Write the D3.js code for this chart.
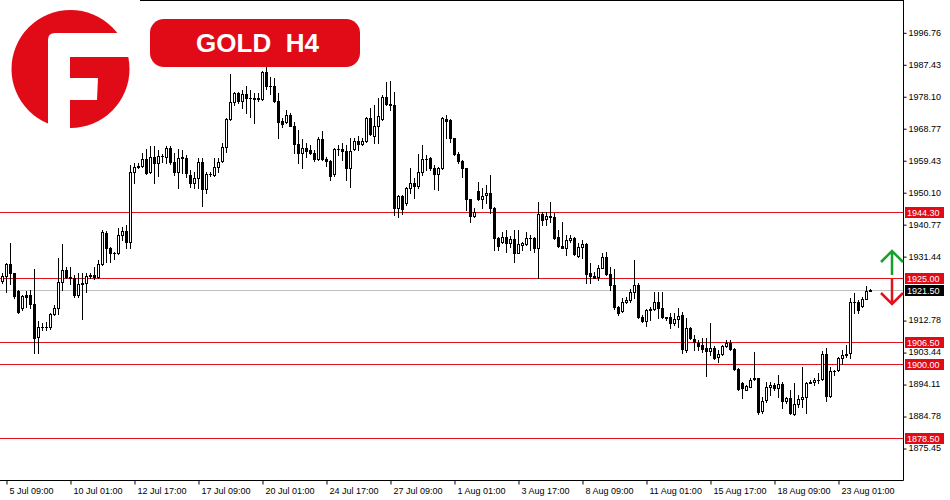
<!DOCTYPE html>
<html>
<head>
<meta charset="utf-8">
<script src="https://cdn.jsdelivr.net/npm/d3@7"></script>
<style>
  html, body { margin: 0; padding: 0; background: #fff; }
  svg { display: block; font-family: "Liberation Sans", Arial, sans-serif; }
</style>
</head>
<body>
<div id="chart"></div>
<script>
// GOLD H4 candles, 5 Jul 05:00 .. 24 Aug 05:00 -- [open, high, low, close]
const ohlc = [
  [1924.3,1926.6,1923.5,1925.7],[1925.7,1929.4,1921.1,1929.1],[1929.1,1935.4,1923.2,1926.4],[1926.4,1926.6,1919.3,1919.8],
  [1921.4,1921.6,1914.8,1915.2],[1916.4,1920.1,1915.7,1919.8],[1920.1,1921.4,1916.7,1919.6],[1920.1,1921.6,1916.4,1917.4],
  [1917.5,1927.7,1903.1,1907.6],[1907.8,1912.5,1903.1,1910.8],[1910.8,1911.8,1909.9,1910.9],[1910.9,1912.3,1909.9,1910.7],
  [1910.8,1914.9,1910.1,1914.5],[1914.5,1917.2,1914.3,1916.2],[1916.4,1930.8,1914.5,1923.8],[1923.8,1935.0,1921.6,1927.4],
  [1927.4,1928.4,1925.0,1925.4],[1925.4,1928.4,1923.2,1925.1],[1925.0,1925.9,1919.5,1920.1],[1920.1,1926.4,1919.6,1923.3],
  [1923.3,1926.4,1913.0,1923.5],[1923.5,1926.6,1921.1,1925.7],[1925.7,1926.6,1925.2,1925.9],[1925.9,1928.4,1924.7,1925.4],
  [1925.4,1930.3,1925.2,1929.1],[1929.1,1939.1,1928.9,1938.4],[1938.2,1938.9,1929.8,1933.7],[1933.7,1934.2,1929.8,1932.4],
  [1932.4,1932.7,1930.5,1932.3],[1932.3,1939.6,1932.1,1937.5],[1937.5,1940.0,1936.1,1938.8],[1938.8,1940.5,1933.9,1935.7],
  [1935.7,1958.0,1933.9,1956.1],[1956.1,1958.7,1952.9,1957.4],[1957.4,1958.7,1957.1,1957.7],[1957.7,1961.4,1957.5,1959.8],
  [1959.8,1962.6,1955.4,1955.6],[1955.9,1963.6,1955.6,1960.3],[1960.3,1963.6,1952.7,1958.7],[1958.7,1962.4,1954.9,1960.7],
  [1960.7,1961.2,1959.0,1960.6],[1960.5,1963.6,1958.7,1962.9],[1962.9,1963.6,1958.3,1959.0],[1959.0,1961.4,1955.1,1956.1],
  [1955.9,1962.6,1951.2,1960.0],[1960.0,1962.4,1955.6,1960.3],[1960.0,1960.9,1954.6,1955.8],[1955.1,1956.6,1951.7,1952.7],
  [1952.7,1956.1,1951.2,1954.2],[1954.3,1960.0,1951.2,1959.0],[1959.0,1960.0,1946.2,1950.9],[1950.9,1956.1,1949.8,1955.3],
  [1955.3,1956.1,1954.8,1955.4],[1955.2,1960.0,1954.8,1957.4],[1957.4,1960.0,1956.1,1959.0],[1959.3,1964.4,1959.0,1963.2],
  [1963.2,1971.7,1961.9,1971.4],[1971.4,1984.6,1971.2,1976.3],[1976.3,1979.2,1975.5,1979.0],[1979.0,1979.4,1976.0,1976.8],
  [1976.8,1979.9,1974.6,1978.7],[1978.7,1981.1,1973.3,1977.5],[1977.5,1979.9,1972.0,1977.6],[1977.6,1979.0,1970.2,1977.4],
  [1977.5,1979.0,1976.8,1977.2],[1977.2,1985.5,1977.0,1985.1],[1985.1,1986.7,1980.1,1981.2],[1981.2,1983.8,1978.9,1981.1],
  [1981.1,1983.3,1976.5,1976.8],[1976.7,1979.0,1965.8,1970.7],[1970.9,1971.7,1969.0,1969.9],[1970.7,1974.1,1970.4,1972.6],
  [1972.6,1973.1,1969.4,1969.5],[1969.4,1970.7,1961.4,1964.1],[1964.1,1968.2,1958.7,1961.6],[1961.6,1965.6,1957.1,1962.9],
  [1962.9,1964.4,1960.4,1962.2],[1962.4,1963.9,1961.2,1961.6],[1961.4,1962.4,1959.3,1959.7],[1959.9,1966.3,1959.5,1965.5],
  [1965.5,1968.0,1959.5,1959.7],[1959.7,1960.5,1957.7,1959.3],[1959.2,1959.5,1953.7,1954.9],[1955.3,1963.1,1954.9,1962.7],
  [1962.7,1963.9,1960.9,1962.6],[1962.6,1964.4,1959.5,1962.2],[1962.2,1963.9,1953.7,1957.1],[1957.1,1965.8,1951.7,1962.2],
  [1962.6,1965.8,1962.4,1965.0],[1965.0,1966.5,1962.4,1964.2],[1964.2,1965.8,1963.9,1965.0],[1965.0,1972.1,1964.8,1971.7],
  [1971.7,1974.6,1966.8,1967.1],[1966.5,1975.5,1964.5,1969.4],[1969.4,1977.5,1964.4,1972.3],[1971.4,1978.5,1971.2,1978.0],
  [1978.0,1982.3,1975.5,1975.8],[1975.8,1982.6,1974.1,1975.5],[1975.5,1979.4,1943.4,1945.6],[1945.6,1949.3,1942.9,1949.0],
  [1949.0,1949.3,1943.7,1945.2],[1947.0,1951.7,1946.4,1951.2],[1951.2,1957.1,1949.8,1952.7],[1952.7,1954.2,1948.3,1951.9],
  [1951.9,1961.2,1951.2,1955.9],[1955.9,1963.9,1955.1,1959.8],[1959.8,1960.9,1956.6,1959.7],[1960.2,1960.5,1956.6,1957.1],
  [1957.1,1958.0,1950.9,1955.4],[1955.4,1957.5,1950.7,1957.1],[1957.1,1972.1,1956.8,1971.7],[1971.4,1972.6,1965.8,1971.0],
  [1971.2,1971.4,1964.7,1965.8],[1965.8,1965.9,1960.9,1961.2],[1961.2,1961.9,1958.5,1959.3],[1959.3,1959.5,1954.6,1957.1],
  [1957.1,1957.2,1944.9,1948.0],[1948.0,1948.1,1941.5,1943.2],[1943.2,1945.6,1942.9,1944.4],[1950.4,1953.2,1947.8,1948.0],
  [1948.0,1951.2,1945.4,1949.0],[1949.2,1952.2,1946.9,1949.8],[1949.8,1955.1,1944.1,1945.4],[1945.4,1945.9,1933.2,1936.8],
  [1936.8,1937.1,1933.2,1934.4],[1935.7,1938.6,1935.2,1937.1],[1937.1,1939.1,1932.7,1935.4],[1935.4,1937.3,1934.2,1936.4],
  [1936.4,1939.1,1929.8,1932.4],[1932.4,1939.1,1932.3,1934.9],[1934.7,1935.7,1933.2,1935.2],[1934.9,1938.6,1934.7,1936.8],
  [1936.7,1937.6,1933.2,1936.8],[1936.6,1937.1,1932.7,1933.7],[1933.7,1947.3,1925.0,1943.7],[1943.7,1944.4,1940.5,1942.0],
  [1942.2,1944.4,1940.5,1943.2],[1943.2,1947.3,1941.5,1942.8],[1942.8,1943.9,1936.4,1936.8],[1937.1,1939.1,1934.2,1934.5],
  [1934.5,1941.5,1933.7,1933.9],[1933.9,1937.6,1931.8,1936.1],[1936.1,1937.6,1935.7,1936.6],[1936.6,1937.1,1931.8,1932.0],
  [1931.5,1935.2,1931.3,1934.2],[1934.0,1936.1,1930.8,1935.0],[1935.0,1935.4,1923.5,1926.2],[1926.4,1929.4,1923.5,1925.7],
  [1925.7,1926.9,1925.0,1925.1],[1925.3,1928.9,1924.5,1927.9],[1927.9,1932.3,1927.9,1931.3],[1931.3,1932.7,1925.9,1926.2],
  [1926.2,1928.4,1921.6,1923.0],[1923.0,1927.6,1915.9,1916.5],[1916.5,1916.9,1914.3,1914.8],[1915.4,1919.1,1915.2,1918.0],
  [1918.0,1919.4,1917.7,1918.6],[1918.6,1921.8,1918.1,1921.1],[1921.1,1930.3,1919.1,1923.0],[1923.0,1923.6,1913.3,1913.8],
  [1913.8,1914.3,1912.3,1912.5],[1912.5,1915.9,1911.1,1915.7],[1915.7,1916.7,1912.8,1916.0],[1915.9,1921.1,1915.7,1918.0],
  [1918.0,1921.1,1913.3,1916.2],[1916.2,1920.9,1913.3,1913.8],[1913.8,1913.8,1912.8,1913.5],[1913.8,1914.8,1910.4,1911.8],
  [1911.8,1914.8,1911.3,1913.0],[1913.0,1916.2,1910.8,1914.0],[1914.3,1915.2,1903.1,1904.3],[1904.0,1913.3,1903.5,1910.4],
  [1910.4,1910.7,1907.3,1907.5],[1907.2,1908.4,1904.0,1906.3],[1906.2,1907.0,1904.0,1905.3],[1905.5,1907.5,1903.5,1904.3],
  [1904.5,1907.5,1896.5,1903.8],[1903.8,1912.0,1902.6,1904.5],[1904.5,1905.2,1901.3,1901.6],[1902.1,1904.0,1900.6,1902.9],
  [1902.9,1905.5,1902.6,1905.2],[1905.2,1907.0,1905.0,1906.0],[1906.0,1907.0,1904.0,1904.3],[1904.3,1904.6,1898.2,1898.5],
  [1898.5,1898.8,1892.4,1892.7],[1894.3,1894.8,1890.0,1892.9],[1892.5,1893.8,1892.4,1893.5],[1893.3,1895.8,1893.2,1895.3],
  [1895.8,1903.6,1895.3,1895.5],[1895.8,1895.9,1885.4,1886.0],[1886.3,1890.4,1885.6,1889.2],[1889.4,1894.8,1889.0,1893.3],
  [1893.3,1894.8,1890.9,1893.8],[1893.8,1894.3,1892.4,1892.9],[1892.9,1896.8,1890.4,1894.0],[1894.0,1894.8,1887.0,1889.3],
  [1889.3,1890.4,1888.5,1890.0],[1890.0,1892.4,1885.4,1885.6],[1885.4,1894.3,1885.1,1888.2],[1888.2,1890.9,1887.5,1889.7],
  [1889.7,1899.0,1887.5,1890.4],[1890.4,1894.8,1885.6,1894.3],[1894.5,1895.3,1894.3,1894.8],[1894.8,1895.8,1893.8,1895.3],
  [1895.3,1897.2,1894.3,1895.4],[1895.5,1903.8,1895.3,1902.9],[1902.9,1904.5,1889.3,1890.6],[1890.6,1899.2,1890.4,1898.0],
  [1898.0,1898.2,1896.8,1897.9],[1898.2,1901.9,1898.0,1901.6],[1901.8,1904.1,1900.1,1902.6],[1902.7,1905.5,1902.1,1902.8],
  [1903.1,1919.1,1901.6,1918.1],[1918.1,1920.8,1914.8,1918.2],[1918.1,1918.6,1914.8,1915.7],[1917.0,1919.4,1916.7,1918.8],
  [1918.8,1922.7,1918.8,1921.4],[1921.4,1921.8,1921.2,1921.5]
];

// time axis: every 16th bar carries a label
const xTickIdx = [1, 17, 33, 49, 65, 81, 97, 113, 129, 145, 161, 177, 193, 209];
const xTickLabels = ["5 Jul 09:00", "10 Jul 01:00", "12 Jul 17:00", "17 Jul 09:00", "20 Jul 01:00",
  "24 Jul 17:00", "27 Jul 09:00", "1 Aug 01:00", "3 Aug 17:00", "8 Aug 09:00", "11 Aug 01:00",
  "15 Aug 17:00", "18 Aug 09:00", "23 Aug 01:00"];

// price scale (the 1922.11 mark sits under the last-price tag, so it is left out)
const yTickValues = [1996.76, 1987.43, 1978.10, 1968.77, 1959.43, 1950.10, 1940.77, 1931.44,
  1912.78, 1903.44, 1894.11, 1884.78, 1875.45];

// support / resistance levels and last price
const levels = [1944.30, 1925.00, 1906.50, 1900.00, 1878.50];
const lastPrice = 1921.50;

const W = 950, H = 500;
const plotRight = 903, plotBottom = 480;
const RED = "#e10b18";

const svg = d3.select("#chart").append("svg")
  .attr("width", W)
  .attr("height", H);

const x = d3.scaleLinear().domain([0, ohlc.length - 1]).range([2, 870]);
const y = d3.scaleLinear().domain([1875.45, 1996.76]).range([448, 32.3]);
const py = v => Math.round(y(v));

// rahmen
svg.append("line").attr("x1", 140).attr("x2", plotRight + 0.5).attr("y1", 0.5).attr("y2", 0.5).attr("stroke", "#000");
svg.append("line").attr("x1", plotRight + 0.5).attr("x2", plotRight + 0.5).attr("y1", 0).attr("y2", plotBottom + 0.5).attr("stroke", "#000");
svg.append("line").attr("x1", 0).attr("x2", plotRight + 0.5).attr("y1", plotBottom + 0.5).attr("y2", plotBottom + 0.5).attr("stroke", "#000");

// level lines
svg.append("line")
  .attr("x1", 0).attr("x2", plotRight)
  .attr("y1", py(lastPrice) + 0.5).attr("y2", py(lastPrice) + 0.5)
  .attr("stroke", "#c0c0c0");

svg.selectAll("line.level")
  .data(levels)
  .enter().append("line")
  .attr("class", "level")
  .attr("x1", 0).attr("x2", plotRight)
  .attr("y1", d => py(d) + 0.5).attr("y2", d => py(d) + 0.5)
  .attr("stroke", "#e4121c");

// kerzen
const g = svg.append("g");
ohlc.forEach((d, i) => {
  const [o, h, l, c] = d;
  const cx = Math.round(x(i));
  g.append("line")
    .attr("x1", cx + 0.5).attr("x2", cx + 0.5)
    .attr("y1", py(h)).attr("y2", py(l) + 1)
    .attr("stroke", "#000");
  const top = py(Math.max(o, c)), bot = py(Math.min(o, c));
  if (bot - top < 1) {
    g.append("line")
      .attr("x1", cx - 1).attr("x2", cx + 2)
      .attr("y1", top + 0.5).attr("y2", top + 0.5)
      .attr("stroke", "#000");
  } else {
    g.append("rect")
      .attr("x", cx - 0.5).attr("y", top + 0.5)
      .attr("width", 2).attr("height", bot - top)
      .attr("fill", c >= o ? "#fff" : "#000")
      .attr("stroke", "#000");
  }
});

// y-achse rechts
const yAxis = svg.append("g")
  .attr("transform", `translate(${plotRight + 0.5},0)`)
  .call(d3.axisRight(y).tickValues(yTickValues).tickSize(3).tickPadding(2).tickFormat(d3.format(".2f")));
yAxis.select(".domain").remove();
yAxis.selectAll(".tick line").attr("transform", "translate(0,0.5)");
yAxis.selectAll("text").attr("font-size", "9px").attr("font-family", "Liberation Sans, Arial, sans-serif").attr("fill", "#000");

// x-achse unten
const xAxis = svg.append("g")
  .attr("transform", `translate(0,${plotBottom + 0.5})`)
  .call(d3.axisBottom(x).tickValues(xTickIdx).tickSize(4).tickFormat((d, i) => xTickLabels[i]));
xAxis.select(".domain").remove();
xAxis.selectAll(".tick line").attr("transform", "translate(0.5,0)");
xAxis.selectAll("text")
  .attr("text-anchor", "start")
  .attr("x", 3).attr("y", 13).attr("dy", 0)
  .attr("font-size", "9px").attr("font-family", "Liberation Sans, Arial, sans-serif").attr("fill", "#000");

// preis-labels auf der achse
const tagData = levels.map(v => ({ v, fill: RED })).concat([{ v: lastPrice, fill: "#000" }]);
const tags = svg.selectAll("g.tag").data(tagData).enter().append("g").attr("class", "tag");
tags.append("rect")
  .attr("x", 905).attr("y", d => py(d.v) - 5)
  .attr("width", 39).attr("height", 11)
  .attr("fill", d => d.fill);
tags.append("text")
  .attr("x", 907).attr("y", d => py(d.v) + 4)
  .attr("font-size", "9px").attr("fill", "#fff")
  .text(d => d.v.toFixed(2));

// pfeile
const arrows = svg.append("g").attr("fill", "none").attr("stroke-width", 2.5).attr("stroke-linecap", "butt");
arrows.append("path")
  .attr("d", "M892,275 V251 M881,262 L892,251 L903,262")
  .attr("stroke", "#17a02c");
arrows.append("path")
  .attr("d", "M892,279 V304 M881,293 L892,304 L903,293")
  .attr("stroke", "#e4121c");

// logo
const logo = svg.append("g");
logo.append("rect").attr("x", 0).attr("y", 0).attr("width", 140).attr("height", 140).attr("fill", "#fff");
logo.append("circle").attr("cx", 70.5).attr("cy", 69).attr("r", 59).attr("fill", RED);
logo.append("path")
  .attr("d", "M48,40 Q48,33 55,33 H135 V57 H70 V78 H98 L97,100 H70 V135 H48 Z")
  .attr("fill", "#fff");

// titel
svg.append("rect")
  .attr("x", 150).attr("y", 19).attr("width", 210).attr("height", 48).attr("rx", 14)
  .attr("fill", RED);
svg.append("text")
  .attr("x", 257.5).attr("y", 52)
  .attr("text-anchor", "middle")
  .attr("font-size", "26px").attr("font-weight", "bold")
  .attr("fill", "#fff")
  .style("white-space", "pre")
  .text("GOLD  H4");
</script>
</body>
</html>
